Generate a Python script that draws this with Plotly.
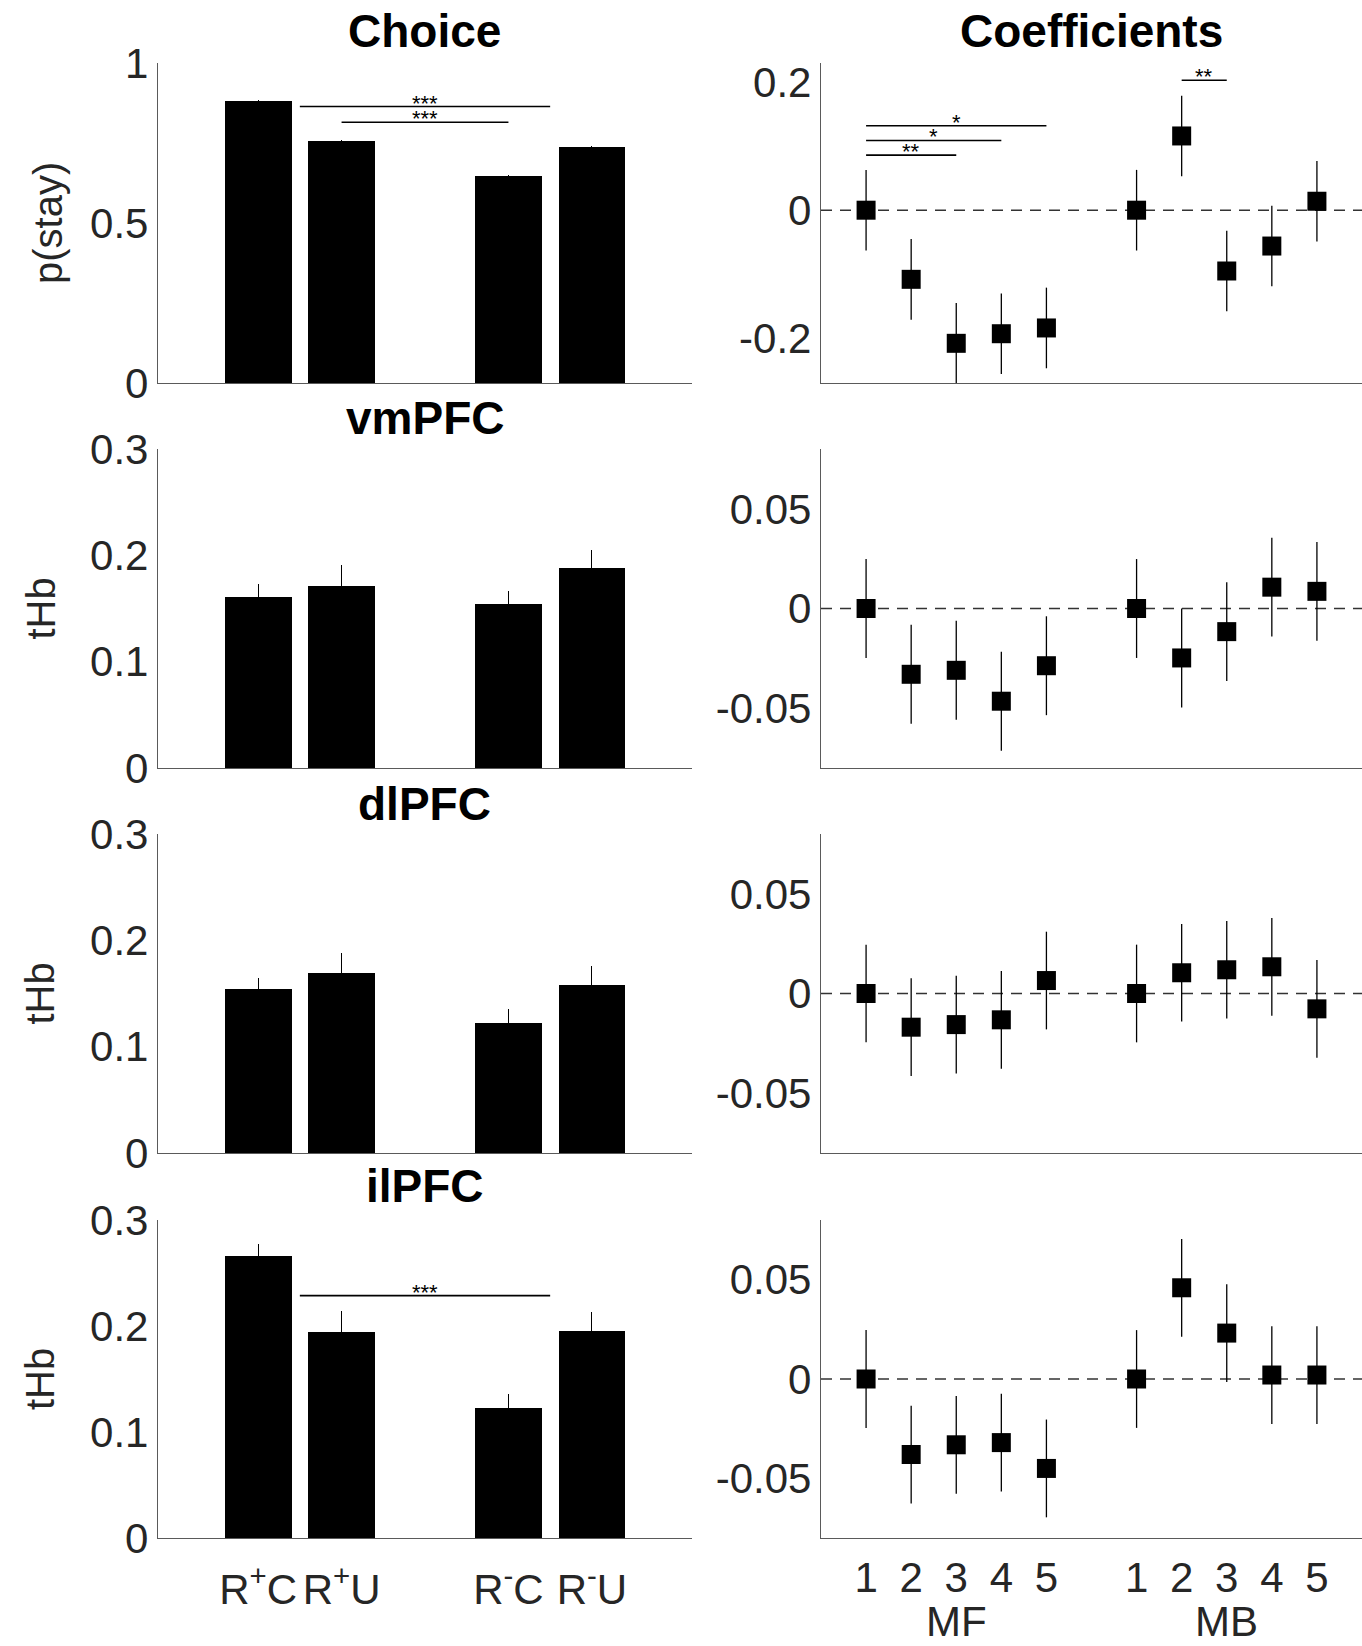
import plotly.graph_objects as go

# ---------------- data ----------------
bar_x = [1, 2, 4, 5]
bar_labels = ["R<sup>+</sup>C", "R<sup>+</sup>U", "R<sup>-</sup>C", "R<sup>-</sup>U"]

choice_mean = [0.881, 0.756, 0.648, 0.737]
choice_err = [0.003, 0.004, 0.003, 0.004]
vmpfc_mean = [0.161, 0.171, 0.154, 0.188]
vmpfc_err = [0.012, 0.020, 0.012, 0.017]
dlpfc_mean = [0.154, 0.169, 0.122, 0.158]
dlpfc_err = [0.011, 0.019, 0.013, 0.018]
ilpfc_mean = [0.266, 0.194, 0.123, 0.195]
ilpfc_err = [0.011, 0.020, 0.013, 0.018]

coef_x = [1, 2, 3, 4, 5, 7, 8, 9, 10, 11]
coef_ticktext = ["1", "2", "3", "4", "5", "1", "2", "3", "4", "5"]
group_labels = ["MF", "MB"]
group_x = [3, 9]

choice_coef = [0, -0.108, -0.208, -0.193, -0.184, 0, 0.116, -0.095, -0.056, 0.014]
choice_coef_err = [0.063] * 10
vmpfc_coef = [0, -0.033, -0.031, -0.0465, -0.0287, 0, -0.0248, -0.0116, 0.0107, 0.0086]
vmpfc_coef_err = [0.0248] * 10
dlpfc_coef = [0, -0.0169, -0.0156, -0.0132, 0.0065, 0, 0.0104, 0.0119, 0.0134, -0.0077]
dlpfc_coef_err = [0.0245] * 10
ilpfc_coef = [0, -0.038, -0.0331, -0.032, -0.045, 0, 0.0459, 0.0231, 0.002, 0.002]
ilpfc_coef_err = [0.0246] * 10

# significance brackets: (x0, x1, y, label)
choice_sig = [(1.5, 4.5, 0.864, "***"), (2, 4, 0.815, "***")]
ilpfc_sig = [(1.5, 4.5, 0.2287, "***")]
choice_coef_sig = [(1, 3, 0.086, "**"), (1, 4, 0.109, "*"), (1, 5, 0.132, "*"), (8, 9, 0.203, "**")]

row_titles = ["Choice", "vmPFC", "dlPFC", "ilPFC"]
row_ylabels = ["p(stay)", "tHb", "tHb", "tHb"]
bar_means = [choice_mean, vmpfc_mean, dlpfc_mean, ilpfc_mean]
bar_errs = [choice_err, vmpfc_err, dlpfc_err, ilpfc_err]
bar_ylims = [[0, 1], [0, 0.3], [0, 0.3], [0, 0.3]]
bar_ticks = [[0, 0.5, 1], [0, 0.1, 0.2, 0.3], [0, 0.1, 0.2, 0.3], [0, 0.1, 0.2, 0.3]]
coef_vals = [choice_coef, vmpfc_coef, dlpfc_coef, ilpfc_coef]
coef_errs = [choice_coef_err, vmpfc_coef_err, dlpfc_coef_err, ilpfc_coef_err]
coef_ylims = [[-0.27, 0.23], [-0.08, 0.08], [-0.08, 0.08], [-0.08, 0.08]]
coef_ticks = [[-0.2, 0, 0.2], [-0.05, 0, 0.05], [-0.05, 0, 0.05], [-0.05, 0, 0.05]]
bar_sigs = [choice_sig, [], [], ilpfc_sig]
coef_sigs = [choice_coef_sig, [], [], []]

# ---------------- layout geometry ----------------
W, H = 1362, 1646
left_dom = [158 / W, 692 / W]
right_dom = [821 / W, 1.0]
row_px = [(63, 383), (449, 768), (834, 1153), (1220, 1538)]
title_y_px = [31, 418, 804, 1186]

FONT = "Liberation Sans, Arial, Helvetica, sans-serif"
TICKCOL = "#262626"
AXCOL = "#5a5a5a"
TICKSIZE = 42

fig = go.Figure()
shapes = []
annotations = []
layout = {}


def ax_id(n):
    return "" if n == 1 else str(n)


for r in range(4):
    top, bot = row_px[r]
    ydom = [1 - bot / H, 1 - top / H]
    nl = 2 * r + 1
    nr = 2 * r + 2
    last = r == 3

    # ---- bar panel ----
    fig.add_trace(go.Bar(
        x=bar_x, y=bar_means[r], width=0.8,
        marker=dict(color="black", line=dict(width=0)),
        error_y=dict(type="data", array=bar_errs[r], visible=True,
                     color="black", thickness=1.2, width=0),
        xaxis="x" + ax_id(nl), yaxis="y" + ax_id(nl), showlegend=False,
    ))
    layout["xaxis" + ax_id(nl)] = dict(
        domain=left_dom, anchor="y" + ax_id(nl), range=[-0.2, 6.2],
        showline=True, linecolor=AXCOL, linewidth=1.3, ticks="",
        showgrid=False, zeroline=False, automargin=False,
        tickvals=bar_x, ticktext=bar_labels, showticklabels=last,
        tickfont=dict(family=FONT, size=TICKSIZE, color=TICKCOL),
        ticklabelstandoff=14,
    )
    layout["yaxis" + ax_id(nl)] = dict(
        domain=ydom, anchor="x" + ax_id(nl), range=bar_ylims[r],
        showline=True, linecolor=AXCOL, linewidth=1.3, ticks="",
        showgrid=False, zeroline=False, tickvals=bar_ticks[r], automargin=False,
        tickfont=dict(family=FONT, size=TICKSIZE, color=TICKCOL),
        ticklabelstandoff=0,
    )

    # ---- coefficient panel ----
    fig.add_trace(go.Scatter(
        x=coef_x, y=coef_vals[r], mode="markers",
        marker=dict(symbol="square", size=19, color="black", line=dict(width=0)),
        error_y=dict(type="data", array=coef_errs[r], visible=True,
                     color="black", thickness=1.3, width=0),
        xaxis="x" + ax_id(nr), yaxis="y" + ax_id(nr), showlegend=False,
    ))
    layout["xaxis" + ax_id(nr)] = dict(
        domain=right_dom, anchor="y" + ax_id(nr), range=[0, 12],
        showline=True, linecolor=AXCOL, linewidth=1.3, ticks="",
        showgrid=False, zeroline=False, automargin=False,
        tickvals=coef_x, ticktext=coef_ticktext, showticklabels=last,
        tickfont=dict(family=FONT, size=TICKSIZE, color=TICKCOL),
        ticklabelstandoff=2,
    )
    layout["yaxis" + ax_id(nr)] = dict(
        domain=ydom, anchor="x" + ax_id(nr), range=coef_ylims[r],
        showline=True, linecolor=AXCOL, linewidth=1.3, ticks="",
        showgrid=False, zeroline=False, tickvals=coef_ticks[r], automargin=False,
        ticktext=[("%g" % v) for v in coef_ticks[r]],
        tickfont=dict(family=FONT, size=TICKSIZE, color=TICKCOL),
        ticklabelstandoff=0,
    )

    # dashed zero line across the coefficient panel
    shapes.append(dict(
        type="line", xref="x" + ax_id(nr) + " domain", x0=0, x1=1,
        yref="y" + ax_id(nr), y0=0, y1=0, layer="below",
        line=dict(color="#333333", width=1.4, dash="11px,8px"),
    ))

    # significance brackets
    for (x0, x1, yv, lab) in bar_sigs[r]:
        shapes.append(dict(type="line", xref="x" + ax_id(nl), yref="y" + ax_id(nl),
                           x0=x0, x1=x1, y0=yv, y1=yv,
                           line=dict(color="black", width=1.6)))
        annotations.append(dict(text=lab, xref="x" + ax_id(nl), yref="y" + ax_id(nl),
                                x=(x0 + x1) / 2, y=yv, showarrow=False,
                                xanchor="center", yanchor="bottom", yshift=-11,
                                font=dict(family=FONT, size=22, color="black")))
    for (x0, x1, yv, lab) in coef_sigs[r]:
        shapes.append(dict(type="line", xref="x" + ax_id(nr), yref="y" + ax_id(nr),
                           x0=x0, x1=x1, y0=yv, y1=yv,
                           line=dict(color="black", width=1.6)))
        annotations.append(dict(text=lab, xref="x" + ax_id(nr), yref="y" + ax_id(nr),
                                x=(x0 + x1) / 2, y=yv, showarrow=False,
                                xanchor="center", yanchor="bottom", yshift=-11,
                                font=dict(family=FONT, size=22, color="black")))

    # row title
    annotations.append(dict(text="<b>" + row_titles[r] + "</b>",
                            xref="x" + ax_id(nl) + " domain", x=0.5,
                            yref="paper", y=1 - title_y_px[r] / H,
                            showarrow=False, xanchor="center", yanchor="middle",
                            font=dict(family=FONT, size=46, color="black")))
    # y label
    lx = 48 if r == 0 else 40
    annotations.append(dict(text=row_ylabels[r], textangle=-90,
                            xref="paper", x=lx / W,
                            yref="paper", y=(ydom[0] + ydom[1]) / 2,
                            showarrow=False, xanchor="center", yanchor="middle",
                            font=dict(family=FONT, size=40, color=TICKCOL)))

# column title for coefficients
annotations.append(dict(text="<b>Coefficients</b>", xref="x2 domain", x=0.5,
                        yref="paper", y=1 - title_y_px[0] / H,
                        showarrow=False, xanchor="center", yanchor="middle",
                        font=dict(family=FONT, size=46, color="black")))

# MF / MB group labels
for gx, gl in zip(group_x, group_labels):
    annotations.append(dict(text=gl, xref="x8", x=gx, yref="paper", y=0,
                            showarrow=False, xanchor="center", yanchor="bottom",
                            yshift=-1,
                            font=dict(family=FONT, size=TICKSIZE, color=TICKCOL)))

fig.update_layout(
    width=W, height=H, autosize=False,
    margin=dict(l=0, r=0, t=0, b=0, autoexpand=False),
    paper_bgcolor="white", plot_bgcolor="white",
    shapes=shapes, annotations=annotations, bargap=0,
    **layout,
)

fig.write_html("out.html")
